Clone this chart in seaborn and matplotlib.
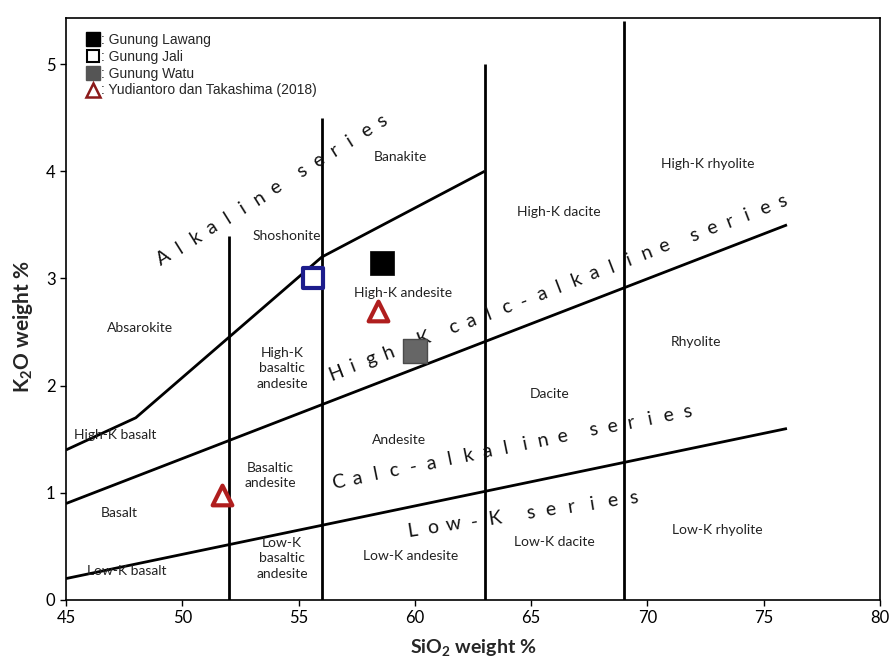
import matplotlib
matplotlib.use("Agg")
import matplotlib.pyplot as plt
import seaborn as sns
import pandas as pd
from matplotlib.lines import Line2D

sns.set_theme(style="white")
plt.rcParams['font.family'] = ['Lato', 'DejaVu Sans']
plt.rcParams['mathtext.fontset'] = 'custom'
plt.rcParams['mathtext.rm'] = 'Lato'
plt.rcParams['mathtext.bf'] = 'Lato:bold'

# ---------------- data ----------------
lawang_x = [58.6]; lawang_y = [3.14]
jali_x = [55.6]; jali_y = [3.00]
watu_x = [60.0]; watu_y = [2.32]
yudi_x = [58.4, 51.7]; yudi_y = [2.70, 0.98]

# boundary lines
alk_x = [45, 48, 56, 63]; alk_y = [1.4, 1.7, 3.2, 4.0]
hk_x = [45, 76]; hk_y = [0.9, 3.5]
ca_x = [45, 76]; ca_y = [0.2, 1.6]
vert_x = [52, 56, 63, 69]; vert_top = [3.4, 4.5, 5.0, 5.4]

region_names = ["Banakite", "High-K rhyolite", "Shoshonite", "High-K dacite",
                "High-K andesite", "Absarokite", "High-K\nbasaltic\nandesite",
                "Rhyolite", "Dacite", "High-K basalt", "Andesite",
                "Basaltic\nandesite", "Basalt", "Low-K\nbasaltic\nandesite",
                "Low-K andesite", "Low-K dacite", "Low-K rhyolite", "Low-K basalt"]
region_x = [59.4, 72.6, 54.5, 66.2, 59.5, 48.2, 54.3, 72.1, 65.8, 47.1, 59.3,
            53.8, 47.3, 54.3, 59.8, 66.0, 73.0, 47.6]
region_y = [4.13, 4.07, 3.40, 3.62, 2.86, 2.54, 2.16, 2.41, 1.92, 1.54, 1.49,
            1.16, 0.81, 0.39, 0.41, 0.54, 0.65, 0.27]

# series labels: first / last character anchor positions in data units
series_names = ["Alkaline series", "High-K calc-alkaline series",
                "Calc-alkaline series", "Low-K series"]
series_x0 = [49.2, 56.6, 56.7, 59.9]
series_y0 = [3.19, 2.12, 1.10, 0.65]
series_x1 = [58.6, 75.8, 71.7, 69.4]
series_y1 = [4.47, 3.72, 1.76, 0.95]
series_rot = [32, 21, 11.5, 9]

xticks = [45, 50, 55, 60, 65, 70, 75, 80]
yticks = [0, 1, 2, 3, 4, 5]

# ---------------- figure ----------------
fig = plt.figure(figsize=(8.95, 6.65), dpi=100)
ax = fig.add_axes([66/895, 65/665, (880-66)/895, (600-18)/665])
ax.set_facecolor("white")

lw = 2.0
ax.plot(alk_x, alk_y, color="black", lw=lw, solid_capstyle="butt")
ax.plot(hk_x, hk_y, color="black", lw=lw, solid_capstyle="butt")
ax.plot(ca_x, ca_y, color="black", lw=lw, solid_capstyle="butt")
for vx, vt in zip(vert_x, vert_top):
    ax.plot([vx, vx], [0, vt], color="black", lw=lw, solid_capstyle="butt")

for name, x, y in zip(region_names, region_x, region_y):
    ax.text(x, y, name, ha="center", va="center", fontsize=10,
            color="#222222", linespacing=1.35)

# spaced lettering along a straight path
SPACE_SLOTS = 1.7
for name, x0, y0, x1, y1, r in zip(series_names, series_x0, series_y0,
                                   series_x1, series_y1, series_rot):
    slots = []
    pos = 0.0
    for ch in name:
        if ch == " ":
            pos += SPACE_SLOTS - 1
            continue
        slots.append((ch, pos))
        pos += 1
    total = slots[-1][1]
    for ch, p in slots:
        t = p / total
        ax.text(x0 + (x1 - x0) * t, y0 + (y1 - y0) * t, ch, ha="center",
                va="center", fontsize=14, rotation=r, rotation_mode="anchor",
                color="#111111")

# samples
sns.scatterplot(x=lawang_x, y=lawang_y, ax=ax, marker="s", s=300,
                color="black", edgecolor="black", linewidth=0.5, zorder=5)
sns.scatterplot(x=jali_x, y=jali_y, ax=ax, marker="s", s=200,
                color="white", edgecolor="#1c1c8c", linewidth=3, zorder=5)
sns.scatterplot(x=watu_x, y=watu_y, ax=ax, marker="s", s=280,
                color="#666666", edgecolor="#4a4a4a", linewidth=1, zorder=5)
sns.scatterplot(x=yudi_x, y=yudi_y, ax=ax, marker="^", s=200,
                color="white", edgecolor="#b01e1e", linewidth=3, zorder=5)

ax.set_xlim(45, 80)
ax.set_ylim(0, 5.43)
ax.set_xticks(xticks)
ax.set_yticks(yticks)
ax.tick_params(axis="both", direction="out", length=4, width=1,
               color="black", labelsize=12, labelcolor="black",
               bottom=True, left=True)
for sp in ax.spines.values():
    sp.set_color("black")
    sp.set_linewidth(1.2)
ax.grid(False)

ax.set_xlabel(r"SiO$_\mathbf{2}$ weight %", fontsize=14, fontweight="bold",
              labelpad=8)
ax.set_ylabel(r"K$_\mathbf{2}$O weight %", fontsize=15, fontweight="bold")
ax.yaxis.set_label_coords(-0.038, 0.47)

handles = [
    Line2D([], [], marker="s", ls="none", markersize=10, color="black"),
    Line2D([], [], marker="s", ls="none", markersize=9, markerfacecolor="white",
           markeredgecolor="black", markeredgewidth=1.5),
    Line2D([], [], marker="s", ls="none", markersize=10, color="#555555"),
    Line2D([], [], marker="^", ls="none", markersize=10, markerfacecolor="white",
           markeredgecolor="#8b1a1a", markeredgewidth=1.8),
]
labels = [": Gunung Lawang", ": Gunung Jali", ": Gunung Watu",
          ": Yudiantoro dan Takashima (2018)"]
leg = ax.legend(handles, labels, loc="upper left", bbox_to_anchor=(0.026, 0.974),
                frameon=False, borderpad=0, borderaxespad=0, handlelength=0.8,
                handletextpad=0.2, labelspacing=0.2,
                prop={"family": "Liberation Sans", "size": 10})

fig.savefig("out.png", dpi=100, facecolor="white")
